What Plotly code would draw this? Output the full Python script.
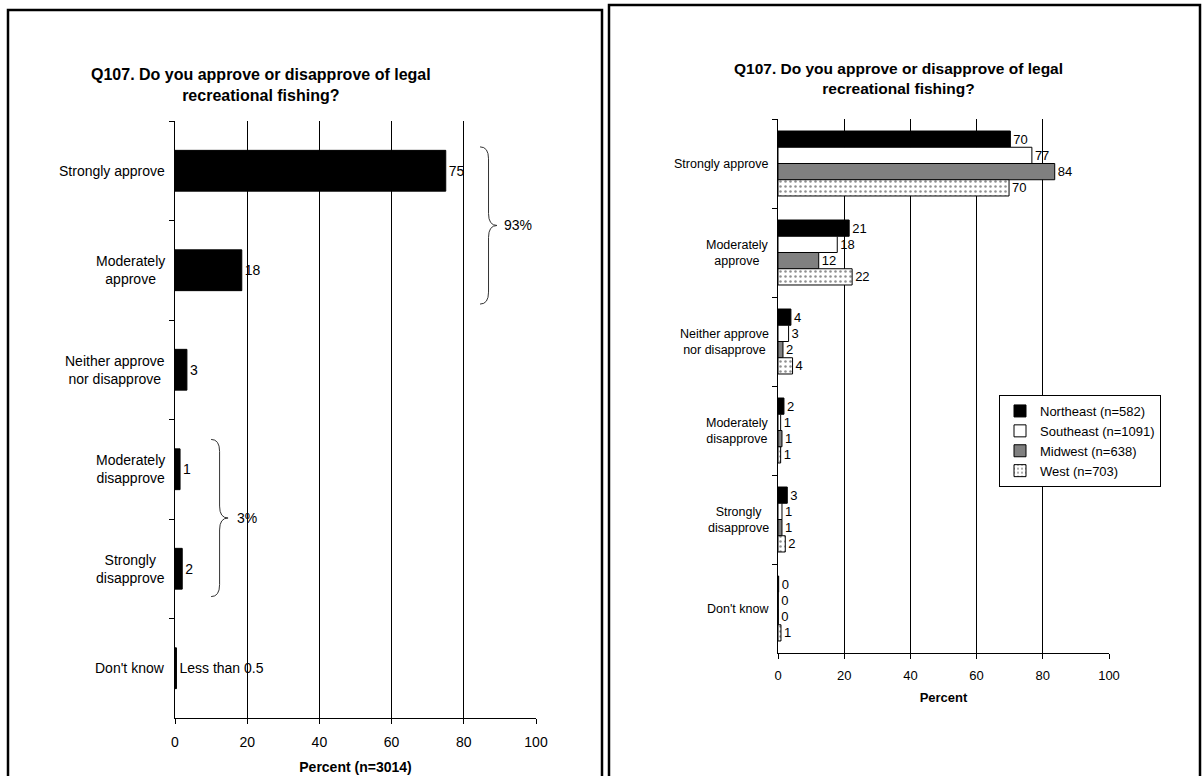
import plotly.graph_objects as go

W, H = 1202, 776

TITLE = "Q107. Do you approve or disapprove of legal<br>recreational fishing?"

categories = [
    "Strongly approve",
    "Moderately<br>approve",
    "Neither approve<br>nor disapprove",
    "Moderately<br>disapprove",
    "Strongly<br>disapprove",
    "Don't know",
]

# left panel: all respondents (n=3014)
total_values = [75, 18.5, 3.3, 1.4, 2.0, 0.4]
total_labels = ["75", "18", "3", "1", "2", "Less than 0.5"]

# right panel: by region
regions = ["Northeast (n=582)", "Southeast (n=1091)", "Midwest (n=638)", "West (n=703)"]
northeast = [70.2, 21.5, 3.9, 1.8, 2.8, 0.2]
southeast = [76.7, 17.9, 3.2, 0.8, 1.2, 0.1]
midwest = [83.6, 12.3, 1.5, 1.2, 1.2, 0.1]
west = [69.8, 22.4, 4.4, 0.8, 2.2, 0.9]
northeast_lbl = ["70", "21", "4", "2", "3", "0"]
southeast_lbl = ["77", "18", "3", "1", "1", "0"]
midwest_lbl = ["84", "12", "2", "1", "1", "0"]
west_lbl = ["70", "22", "4", "1", "2", "1"]

FONT = "Liberation Sans, Arial, sans-serif"


def px(x):
    return x / W


def py(y):
    return 1 - y / H


fig = go.Figure()

fig.add_trace(
    go.Bar(
        x=total_values,
        y=categories,
        orientation="h",
        width=0.41,
        marker=dict(color="black", line=dict(color="black", width=1)),
        text=total_labels,
        textposition="outside",
        textfont=dict(size=14, color="black"),
        cliponaxis=False,
        showlegend=False,
        xaxis="x",
        yaxis="y",
    )
)

region_styles = [
    dict(color="black"),
    dict(color="white"),
    dict(color="#808080"),
    dict(color="white", pattern=dict(shape=".", fgcolor="#222", bgcolor="white", size=5, solidity=0.2)),
]
for name, vals, lbls, style in zip(
    regions,
    [northeast, southeast, midwest, west],
    [northeast_lbl, southeast_lbl, midwest_lbl, west_lbl],
    region_styles,
):
    fig.add_trace(
        go.Bar(
            x=vals,
            y=categories,
            orientation="h",
            name=name,
            marker=dict(line=dict(color="black", width=1), **style),
            text=lbls,
            textposition="outside",
            textfont=dict(size=13, color="black"),
            cliponaxis=False,
            xaxis="x2",
            yaxis="y2",
        )
    )

xcommon = dict(
    range=[0, 100],
    tickvals=[0, 20, 40, 60, 80, 100],
    showgrid=True,
    gridcolor="black",
    gridwidth=1,
    showline=True,
    linecolor="black",
    linewidth=1,
    ticks="outside",
    ticklen=5,
    tickcolor="black",
    zeroline=False,
    automargin=False,
)
ycommon = dict(
    categoryorder="array",
    categoryarray=categories,
    autorange="reversed",
    showline=True,
    linecolor="black",
    linewidth=1,
    ticks="outside",
    tickson="boundaries",
    ticklen=5,
    tickcolor="black",
    showticklabels=False,
    showgrid=False,
    automargin=False,
)

fig.update_layout(
    width=W,
    height=H,
    autosize=False,
    margin=dict(l=0, r=0, t=0, b=0, autoexpand=False),
    paper_bgcolor="white",
    plot_bgcolor="white",
    font=dict(family=FONT, color="black"),
    barmode="group",
    bargap=0.27,
    bargroupgap=0,
    xaxis=dict(
        domain=[px(175), px(536)],
        anchor="y",
        tickfont=dict(size=14),
        ticklabelstandoff=6,
        title=dict(text="<b>Percent (n=3014)</b>", font=dict(size=14), standoff=13),
        **xcommon,
    ),
    yaxis=dict(domain=[py(718), py(121)], anchor="x", **ycommon),
    xaxis2=dict(
        domain=[px(778), px(1109)],
        anchor="y2",
        tickfont=dict(size=13),
        ticklabelstandoff=5,
        title=dict(text="<b>Percent</b>", font=dict(size=13), standoff=11),
        **xcommon,
    ),
    yaxis2=dict(domain=[py(653), py(119)], anchor="x2", **ycommon),
    legend=dict(
        x=px(999),
        y=py(395),
        xanchor="left",
        yanchor="top",
        bgcolor="white",
        bordercolor="black",
        borderwidth=1,
        font=dict(size=13),
        itemwidth=30,
        tracegroupgap=0,
    ),
)

# category labels (centred lines, right-aligned block)
for cat in categories:
    fig.add_annotation(
        x=px(175), y=cat, xref="paper", yref="y", text=cat, showarrow=False,
        xanchor="right", align="center", xshift=-8, font=dict(size=14),
    )
    fig.add_annotation(
        x=px(778), y=cat, xref="paper", yref="y2", text=cat, showarrow=False,
        xanchor="right", align="center", xshift=-7, font=dict(size=12.5),
    )

# titles
fig.add_annotation(
    x=px(261), y=py(85), xref="paper", yref="paper", text="<b>" + TITLE + "</b>",
    showarrow=False, align="center", xanchor="center", yanchor="middle", font=dict(size=16),
)
fig.add_annotation(
    x=px(898), y=py(79), xref="paper", yref="paper", text="<b>" + TITLE + "</b>",
    showarrow=False, align="center", xanchor="center", yanchor="middle", font=dict(size=15.5),
)


def brace(x0, x1, ya, yb):
    xm = (x0 + x1) / 2
    ym = (ya + yb) / 2
    r = 0.12
    return (
        f"M {x0},{ya} Q {xm},{ya} {xm},{ya + r} L {xm},{ym - r} "
        f"Q {xm},{ym} {x1},{ym} Q {xm},{ym} {xm},{ym + r} "
        f"L {xm},{yb - r} Q {xm},{yb} {x0},{yb}"
    )


fig.add_shape(type="path", xref="x", yref="y", path=brace(84.5, 89.2, -0.24, 1.34),
              line=dict(color="#333", width=1))
fig.add_annotation(x=90.5, y=0.55, xref="x", yref="y", text="93%", showarrow=False,
                   xanchor="left", font=dict(size=14))
fig.add_shape(type="path", xref="x", yref="y", path=brace(10.0, 14.7, 2.70, 4.28),
              line=dict(color="#333", width=1))
fig.add_annotation(x=16.5, y=3.49, xref="x", yref="y", text="3%", showarrow=False,
                   xanchor="left", font=dict(size=14))

# panel frames
fig.add_shape(type="rect", xref="paper", yref="paper", x0=px(8), x1=px(602), y0=-0.05, y1=py(10),
              line=dict(color="black", width=2.5))
fig.add_shape(type="rect", xref="paper", yref="paper", x0=px(609), x1=px(1200), y0=-0.05, y1=py(5),
              line=dict(color="black", width=2.5))

page_fix = (
    "document.documentElement.style.overflow='hidden';"
    "document.body.style.margin='0';"
    "document.body.style.overflow='hidden';"
)
fig.write_html(
    "out.html",
    post_script=page_fix,
    config={"displayModeBar": False, "responsive": False},
)
